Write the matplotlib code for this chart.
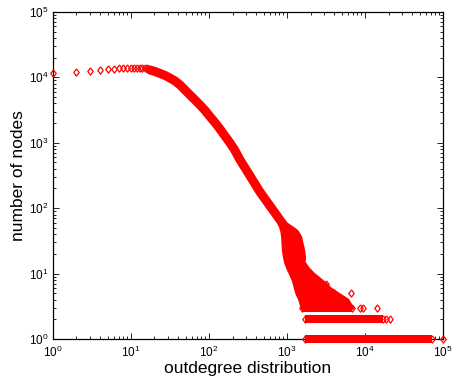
import matplotlib
matplotlib.use('Agg')
from matplotlib import pyplot as plt

plt.rcParams['font.family'] = ['Liberation Sans', 'DejaVu Sans']

# sparse points at the smallest outdegrees
head_x = [1, 2, 3, 4, 5, 6, 7, 8, 9, 10, 11, 12, 13, 14, 15, 16, 17]
head_y = [11600, 12000, 12500, 13000, 13300, 13600, 13800, 13900, 14000,
          14100, 14100, 14150, 14150, 14100, 14000, 13800, 13200]

# dense part of the curve (the markers merge into one thick band)
band_x = [17.5, 20.3, 23.5, 27.3, 31.5, 36.6, 42.5, 49.2, 57, 66.2, 76.6,
          88.9, 103, 119, 138, 160, 186, 215, 250, 290, 336, 389, 450,
          522, 605, 702, 813, 943, 1093]
band_y = [12970, 12300, 11480, 10700, 9790, 8810, 7650, 6420, 5380, 4510,
          3780, 3120, 2505, 2045, 1625, 1270, 993, 763, 546, 412, 311, 234,
          177, 138, 108, 84.5, 66, 51.6, 37.6]

# tail: spread of outdegrees for each small count (points overlap into a wedge)
cuña_y = [3, 4, 5, 6, 7, 8, 10, 12, 15, 18, 23, 30, 37, 45, 52, 60]
cuña_xlo = [1550, 1450, 1330, 1270, 1230, 1190, 1100, 1020, 950, 920, 890,
            880, 870, 850, 820, 780]
cuña_xhi = [6800, 5900, 4400, 3500, 3100, 2700, 2150, 1850, 1620, 1640,
            1600, 1520, 1460, 1320, 1120, 930]

# rows of nodes with count 1, 2 and 3
row_y = [1, 2, 3]
row_xlo = [1680, 1690, 1550]
row_xhi = [72000, 17200, 6800]

# isolated points in the tail
out_x = [3160, 3490, 4040, 6560, 4550, 8630, 9510, 14400, 18600, 20900, 100000]
out_y = [7, 5, 5, 5, 4, 3, 3, 3, 2, 2, 1]

rojo = (1, 0, 0)
diamante = [(0, 1), (0.75, 0), (0, -1), (-0.75, 0), (0, 1)]
estilo = dict(marker=diamante, ms=5.2, mfc='none', mec=rojo, mew=0.9,
              clip_on=False, zorder=3)

fig = plt.figure(figsize=(4.59, 3.86), dpi=100)
ax = fig.add_axes([0.1155, 0.1218, 0.8497, 0.8472])
ax.set_xscale('log')
ax.set_yscale('log')

ax.plot(band_x, band_y, color=rojo, lw=6.5, solid_capstyle='round',
        solid_joinstyle='round')
ax.fill_betweenx(cuña_y, cuña_xlo, cuña_xhi, color=rojo, lw=2.5, ec=rojo)
for i, y in enumerate(row_y):
    ax.plot([row_xlo[i], row_xhi[i]], [y, y], color=rojo, lw=5.8,
            solid_capstyle='butt', **estilo)
ax.plot(head_x, head_y, ls='none', **estilo)
ax.plot(out_x, out_y, ls='none', **estilo)

ax.set_xlim(1, 1e5)
ax.set_ylim(1, 1e5)
ax.tick_params(which='both', direction='in', top=True, right=True,
               labelsize=8.5, width=0.6)
ax.tick_params(which='major', length=4.5)
ax.tick_params(which='minor', length=2.5)
ax.tick_params(axis='x', pad=4)
for s in ax.spines.values():
    s.set_linewidth(0.9)

ax.set_xlabel('outdegree distribution', fontsize=12.5, labelpad=1)
ax.set_ylabel('number of nodes', fontsize=12.5, labelpad=2)

fig.savefig('out.png', dpi=100)
